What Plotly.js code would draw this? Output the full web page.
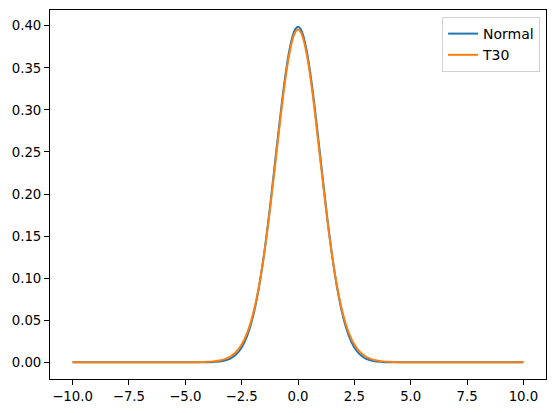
<!DOCTYPE html>
<html><head><meta charset="utf-8">
<script src="https://cdn.plot.ly/plotly-3.0.1.min.js"></script>
<style>body{margin:0;padding:0;background:#fff}#chart{width:556px;height:413px}</style>
</head><body><div id="chart"></div>
<script>
// x positions (curves span -10 .. 10)
const xs = [-10,-5,-4.5,-4,-3.75,-3.5,-3.25,-3,-2.75,-2.5,-2.25,-2,-1.75,-1.5,-1.25,-1,-0.75,-0.625,-0.5,-0.375,-0.25,-0.125,0,0.125,0.25,0.375,0.5,0.625,0.75,1,1.25,1.5,1.75,2,2.25,2.5,2.75,3,3.25,3.5,3.75,4,4.5,5,10];
const normalVals = [0,0,0,0.0001,0.0004,0.0009,0.002,0.0044,0.0091,0.0175,0.0317,0.054,0.0863,0.1295,0.1826,0.242,0.3011,0.328,0.3521,0.3718,0.3867,0.3958,0.3989,0.3958,0.3867,0.3718,0.3521,0.328,0.3011,0.242,0.1826,0.1295,0.0863,0.054,0.0317,0.0175,0.0091,0.0044,0.002,0.0009,0.0004,0.0001,0,0,0];
const t30Vals = [0,0,0.0001,0.0005,0.001,0.002,0.0037,0.0068,0.0121,0.0211,0.0353,0.0568,0.0877,0.1289,0.1801,0.238,0.2966,0.3237,0.3479,0.3679,0.383,0.3924,0.3956,0.3924,0.383,0.3679,0.3479,0.3237,0.2966,0.238,0.1801,0.1289,0.0877,0.0568,0.0353,0.0211,0.0121,0.0068,0.0037,0.002,0.001,0.0005,0.0001,0,0];
const seriesNames = ["Normal","T30"];
const xTicks = [-10,-7.5,-5,-2.5,0,2.5,5,7.5,10];
const yTicks = [0,0.05,0.1,0.15,0.2,0.25,0.3,0.35,0.4];

const font = {family:"DejaVu Sans", size:13.3, color:"#000"};
const traces = [
  {x:xs, y:normalVals, name:seriesNames[0], mode:"lines", line:{color:"#1f77b4", width:2, shape:"spline", smoothing:1}},
  {x:xs, y:t30Vals, name:seriesNames[1], mode:"lines", line:{color:"#ff7f0e", width:2, shape:"spline", smoothing:1}}
];
const axisCommon = {showline:true, mirror:true, linecolor:"#000", linewidth:1, ticks:"outside", ticklen:5, tickwidth:1, tickcolor:"#000", showgrid:false, zeroline:false, tickfont:font};
const layout = {
  width:556, height:413,
  margin:{l:50, r:10, t:10, b:34},
  paper_bgcolor:"#fff", plot_bgcolor:"#fff",
  font:font,
  xaxis:Object.assign({}, axisCommon, {range:[-11,11], tickvals:xTicks, tickformat:".1f"}),
  yaxis:Object.assign({}, axisCommon, {range:[-0.01995,0.4188], tickvals:yTicks, tickformat:".2f"}),
  showlegend:true,
  legend:{x:0.988, y:0.981, xanchor:"right", yanchor:"top", bgcolor:"rgba(255,255,255,0.8)", bordercolor:"#d0d0d0", borderwidth:1, font:{family:"DejaVu Sans", size:14, color:"#000"}, itemwidth:30, tracegroupgap:0}
};
Plotly.newPlot("chart", traces, layout, {staticPlot:true, displayModeBar:false});
</script>
</body></html>
